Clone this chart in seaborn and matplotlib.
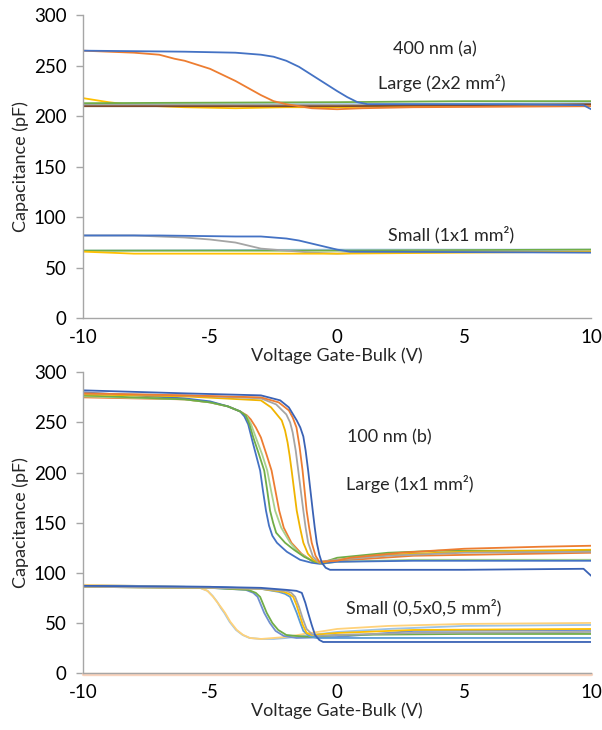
import matplotlib
matplotlib.use("Agg")
import matplotlib.pyplot as plt
import seaborn as sns
import pandas as pd

# ---------------- data: panel (a) 400 nm ----------------
a_L_blue_v = [-10, -6, -4, -3, -2.5, -2, -1.5, -1, -0.5, 0, 0.4, 0.8, 1.2, 3, 7, 9.7, 10]
a_L_blue_c = [265, 264, 263, 261, 259, 255, 249, 241, 233, 225, 219, 214, 212, 212, 212, 211, 207]
a_L_orange_v = [-10, -8, -7, -6.4, -6, -5.5, -5, -4.5, -4, -3.5, -3, -2.5, -2, -1.5, -1, 0, 1, 3, 10]
a_L_orange_c = [265, 263, 261, 257, 255, 251, 247, 241, 235, 228, 221, 215, 212, 210, 208, 207, 208, 209, 210]
a_L_green_v = [-10, 0, 5, 10]
a_L_green_c = [213, 214, 215, 215]
a_L_yellow_v = [-10, -9, -8, -6, -4, -2, 0, 3, 10]
a_L_yellow_c = [218, 214, 211, 209, 208, 209, 209, 210, 211]
a_L_lblue_v = [-10, 0, 10]
a_L_lblue_c = [212, 212, 213]
a_L_gray_v = [-10, 0, 10]
a_L_gray_c = [211, 211, 211]
a_L_brown_v = [-10, -8, -5, 0, 5, 10]
a_L_brown_c = [210, 210, 210, 210, 211, 212]

a_S_blue_v = [-10, -7, -4, -3, -2, -1.5, -1, -0.5, 0, 0.5, 10]
a_S_blue_c = [82, 82, 81, 81, 79, 77, 74, 71, 68, 66, 65]
a_S_gray_v = [-10, -8, -7, -6, -5, -4, -3.5, -3, -2, -1, 0, 1, 3, 10]
a_S_gray_c = [82, 82, 81, 80, 78, 75, 72, 69, 67, 65, 64, 65, 66, 66]
a_S_green_v = [-10, 0, 10]
a_S_green_c = [67, 67, 68]
a_S_yellow_v = [-10, -9, -8, 0, 5, 10]
a_S_yellow_c = [66, 65, 64, 64, 65, 66]
a_S_lblue_v = [-10, 0, 10]
a_S_lblue_c = [67, 68, 68]

# ---------------- data: panel (b) 100 nm ----------------
b_L_dblue_v = [-10, -6, -3, -2.24, -1.9, -1.59, -1.45, -1.33, -1.24, -1.14, -1.05, -0.96, -0.88, -0.8, -0.7, -0.6, -0.45, -0.28, 0, 5, 9.7, 10]
b_L_dblue_c = [282, 279, 277, 272, 265, 252, 245, 236, 222, 202, 182, 162, 145, 130, 118, 110, 105, 103, 103, 103, 104, 97]
b_L_orange_v = [-10, -6, -3, -2.3, -1.9, -1.75, -1.6, -1.48, -1.36, -1.28, -1.2, -1.1, -1.0, -0.85, -0.7, 0, 0.5, 2.5, 5, 8, 10]
b_L_orange_c = [279, 277, 275, 270, 262, 255, 245, 226, 202, 182, 162, 145, 130, 117, 111, 112, 115, 120, 124, 126, 127]
b_L_gray_v = [-10, -6, -3, -2.4, -2.0, -1.85, -1.75, -1.63, -1.53, -1.43, -1.33, -1.24, -1.14, -0.95, -0.75, 0, 2, 5, 10]
b_L_gray_c = [279, 277, 274, 268, 258, 250, 240, 222, 202, 182, 162, 145, 130, 116, 111, 113, 117, 120, 121]
b_L_gold_v = [-10, -6, -3, -2.6, -2.18, -2.05, -1.95, -1.87, -1.79, -1.69, -1.59, -1.46, -1.33, -1.15, -0.94, -0.7, 0, 2, 5, 10]
b_L_gold_c = [278, 276, 272, 265, 252, 242, 230, 217, 202, 182, 162, 145, 130, 119, 113, 110, 113, 118, 121, 123]
b_L_green_v = [-10, -6, -5, -4.3, -3.82, -3.6, -3.45, -3.3, -3.1, -2.87, -2.75, -2.64, -2.52, -2.4, -2.05, -1.7, -1.3, -0.9, -0.6, 0, 2, 4, 10]
b_L_green_c = [277, 273, 270, 266, 261, 257, 248, 235, 220, 202, 182, 162, 150, 140, 130, 123, 116, 111, 110, 115, 120, 122, 122]
b_L_blue_v = [-10, -6, -5, -4.3, -3.82, -3.65, -3.5, -3.3, -3.03, -2.92, -2.8, -2.68, -2.55, -2.37, -2.2, -1.98, -1.46, -1.0, -0.7, 0, 3, 10]
b_L_blue_c = [280, 274, 271, 266, 261, 256, 248, 228, 202, 182, 162, 147, 137, 130, 126, 121, 113, 110, 109, 111, 112, 112]
b_L_lgreen_v = [-10, -6, -5, -4.3, -3.82, -3.55, -3.4, -3.2, -2.95, -2.75, -2.6, -2.44, -2.2, -1.85, -1.5, -1.0, -0.6, 0, 3, 10]
b_L_lgreen_c = [276, 273, 270, 266, 261, 256, 249, 235, 218, 202, 182, 162, 145, 130, 120, 112, 109, 111, 113, 113]
b_L_lorange_v = [-10, -6, -5, -4.3, -3.82, -3.55, -3.4, -3.2, -3.0, -2.78, -2.58, -2.43, -2.28, -2.1, -1.8, -1.4, -1.0, -0.6, 0, 3, 10]
b_L_lorange_c = [275, 273, 270, 266, 261, 257, 253, 245, 235, 218, 202, 182, 162, 145, 130, 119, 112, 109, 112, 117, 120]

b_S_dblue_v = [-10, -5, -3, -2, -1.6, -1.39, -1.25, -1.14, -1.0, -0.87, -0.7, -0.55, 0, 10]
b_S_dblue_c = [87, 86, 85, 83, 82, 80, 70, 60, 48, 38, 33, 31, 31, 31]
b_S_gray_v = [-10, -5, -3, -2, -1.8, -1.65, -1.5, -1.35, -1.2, -1.0, -0.8, 0, 3, 10]
b_S_gray_c = [86, 85, 84, 82, 80, 76, 66, 54, 44, 39, 37, 38, 40, 41]
b_S_gold_v = [-10, -5, -3, -2.1, -1.9, -1.73, -1.6, -1.5, -1.35, -1.2, -1.0, 0, 3, 10]
b_S_gold_c = [86, 85, 84, 81, 79, 76, 68, 60, 48, 40, 38, 40, 43, 44]
b_S_lblue_v = [-10, -5, -3, -2.3, -2.05, -1.85, -1.72, -1.59, -1.45, -1.33, -1.1, -0.8, 0, 10]
b_S_lblue_c = [87, 86, 84, 81, 79, 76, 68, 60, 50, 42, 37, 35, 35, 35]
b_S_green_v = [-10, -5, -3.5, -3.2, -3.03, -2.9, -2.77, -2.55, -2.32, -2.0, -1.6, -1, 0, 5, 10]
b_S_green_c = [86, 85, 83, 80, 76, 68, 60, 50, 43, 38, 37, 36, 38, 39, 39]
b_S_blue_v = [-10, -5, -3.6, -3.3, -3.13, -3.0, -2.87, -2.65, -2.42, -2.1, -1.6, 0, 3, 10]
b_S_blue_c = [86, 85, 83, 80, 76, 68, 60, 50, 42, 37, 35, 36, 42, 43]
b_S_lorange_v = [-10, -6, -5.4, -5.1, -4.88, -4.7, -4.55, -4.41, -4.2, -3.95, -3.7, -3.43, -3.0, -2.5, -2, -1.3, -0.5, 0, 2, 5, 10]
b_S_lorange_c = [88, 86, 85, 82, 76, 70, 65, 60, 51, 43, 38, 35, 34, 35, 36, 39, 42, 44, 47, 49, 50]
b_S_lblue2_v = [-10, -6, -5.4, -5.1, -4.9, -4.72, -4.58, -4.44, -4.23, -3.98, -3.72, -3.45, -3.0, -2.5, -2, -1, 0, 2, 5, 10]
b_S_lblue2_c = [88, 86, 85, 82, 77, 71, 65, 60, 51, 43, 38, 35, 34, 34, 35, 38, 41, 44, 47, 48]

b_zero_v = [-10, -5, 0, 5, 10]
b_zero_c = [-1.2, -1.2, -1.2, -1.2, -1.2]

xticks = [-10, -5, 0, 5, 10]
yticks = [0, 50, 100, 150, 200, 250, 300]

BLUE = "#4472C4"; ORANGE = "#ED7D31"; GRAY = "#A5A5A5"; GOLD = "#FFC000"
LBLUE = "#5B9BD5"; GREEN = "#70AD47"; LGREEN = "#A9D18E"
LBLUE2 = "#9DC3E6"; DBLUE = "#3A62B5"

panel_a = [
    (a_L_yellow_v, a_L_yellow_c, GOLD), (a_L_lblue_v, a_L_lblue_c, LBLUE2),
    (a_L_gray_v, a_L_gray_c, GRAY), (a_L_brown_v, a_L_brown_c, "#7F4A2A"),
    (a_L_green_v, a_L_green_c, GREEN), (a_L_orange_v, a_L_orange_c, ORANGE),
    (a_L_blue_v, a_L_blue_c, BLUE),
    (a_S_lblue_v, a_S_lblue_c, LBLUE2), (a_S_green_v, a_S_green_c, GREEN),
    (a_S_gray_v, a_S_gray_c, GRAY), (a_S_yellow_v, a_S_yellow_c, GOLD),
    (a_S_blue_v, a_S_blue_c, BLUE),
]
panel_b = [
    (b_L_lorange_v, b_L_lorange_c, ORANGE), (b_L_lgreen_v, b_L_lgreen_c, LGREEN),
    (b_L_blue_v, b_L_blue_c, BLUE), (b_L_green_v, b_L_green_c, GREEN),
    (b_L_gold_v, b_L_gold_c, "#F0B400"), (b_L_gray_v, b_L_gray_c, GRAY),
    (b_L_orange_v, b_L_orange_c, ORANGE), (b_L_dblue_v, b_L_dblue_c, DBLUE),
    (b_S_lblue2_v, b_S_lblue2_c, LBLUE2), (b_S_lorange_v, b_S_lorange_c, "#FFD27A"),
    (b_S_blue_v, b_S_blue_c, "#6F8FD0"), (b_S_green_v, b_S_green_c, GREEN),
    (b_S_lblue_v, b_S_lblue_c, LBLUE), (b_S_gold_v, b_S_gold_c, GOLD),
    (b_S_gray_v, b_S_gray_c, GRAY), (b_S_dblue_v, b_S_dblue_c, DBLUE),
]

sns.set_theme(style="white")
plt.rcParams['font.family'] = ['Lato', 'DejaVu Sans']

fig = plt.figure(figsize=(6.02, 7.30), dpi=100)
ax_a = fig.add_axes([0.138, 0.564, 0.844, 0.415])
ax_b = fig.add_axes([0.138, 0.078, 0.844, 0.412])

AXC = "#A6A6A6"

def style(ax):
    ax.set_xlim(-10, 10)
    ax.set_ylim(0, 300)
    ax.set_xticks(xticks)
    ax.set_yticks(yticks)
    ax.set_xticklabels([str(t) for t in xticks])
    for s in ["top", "right"]:
        ax.spines[s].set_visible(False)
    for s in ["left", "bottom"]:
        ax.spines[s].set_color(AXC)
        ax.spines[s].set_linewidth(1.0)
        ax.spines[s].set_zorder(5)
    ax.tick_params(axis="x", direction="in", length=5, color=AXC, width=1.0,
                   pad=8, labelsize=13.5, labelcolor="black")
    ax.tick_params(axis="y", direction="out", length=5, color=AXC, width=1.0,
                   pad=7, labelsize=13.5, labelcolor="black", left=True)
    ax.set_xlabel("Voltage Gate-Bulk (V)", fontsize=13, labelpad=1)
    ax.set_ylabel("Capacitance (pF)", fontsize=13, labelpad=3)
    ax.grid(False)

for ax, curves in [(ax_a, panel_a), (ax_b, panel_b)]:
    for v, c, col in curves:
        df = pd.DataFrame({"V": v, "C": c})
        sns.lineplot(data=df, x="V", y="C", color=col, linewidth=1.3, ax=ax,
                     sort=False, estimator=None)

zdf = pd.DataFrame({"V": b_zero_v, "C": b_zero_c})
sns.lineplot(data=zdf, x="V", y="C", color="#F9D3BD", linewidth=2.4, ax=ax_b,
             estimator=None)
ax_b.get_lines()[-1].set_clip_on(False)
ax_b.get_lines()[-1].set_zorder(1)

style(ax_a)
style(ax_b)

ax_a.text(3.86, 266, "400 nm (a)", ha="center", va="center", fontsize=13)
ax_a.text(4.1, 233, "Large (2x2 mm²)", ha="center", va="center", fontsize=13)
ax_a.text(4.5, 83, "Small (1x1 mm²)", ha="center", va="center", fontsize=13)
ax_b.text(2.07, 235, "100 nm (b)", ha="center", va="center", fontsize=13)
ax_b.text(2.86, 189, "Large (1x1 mm²)", ha="center", va="center", fontsize=13)
ax_b.text(3.39, 65, "Small (0,5x0,5 mm²)", ha="center", va="center", fontsize=13)

fig.savefig("out.png", dpi=100)
